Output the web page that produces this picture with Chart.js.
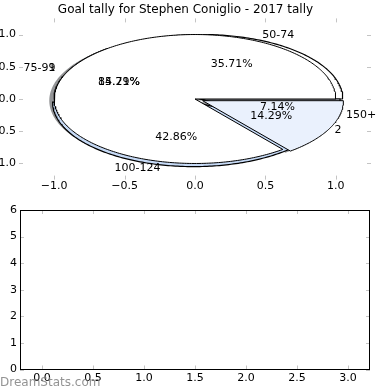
<!DOCTYPE html>
<html><head><meta charset="utf-8">
<script src="https://cdn.jsdelivr.net/npm/chart.js@4.4.0/dist/chart.umd.min.js"></script>
<style>
html,body{margin:0;padding:0;background:#fff;width:390px;height:390px;overflow:hidden}
canvas{position:absolute;left:0}
#top{top:0}
#bot{top:200px}
</style></head><body>
<canvas id="top" width="390" height="200"></canvas>
<canvas id="bot" width="390" height="190"></canvas>
<script>
// ---- data ----
const chartTitle = 'Goal tally for Stephen Coniglio - 2017 tally';
const pieALabels = ['50-74', '75-99', '100-124', '150+'];
const pieAValues = [5, 2, 6, 1];
const pieBLabels = ['1', '2'];
const pieBValues = [12, 2];
const topXTicks = [-1.0, -0.5, 0.0, 0.5, 1.0];
const topYTicks = [-1.0, -0.5, 0.0, 0.5, 1.0];
const botXTicks = [0.0, 0.5, 1.0, 1.5, 2.0, 2.5, 3.0];
const botYTicks = [0, 1, 2, 3, 4, 5, 6];
const watermark = 'DreamStats.com';

// ---- styles ----
const FONT = '"DejaVu Sans", "Liberation Sans", sans-serif';
const pieAStyle = { fill: ['#ffffff', '#ffffff', '#c6daf6', '#eaf1fd'], shiftX: [0.05, 0, 0, 0.03], explode: [0, 0, 0.05, 0] };
const pieBStyle = { fill: ['#ffffff', '#eaf1fd'], explode: [0, 0.06] };
const SHADOW = [-0.035, -0.025];

function wedge(t1, t2, r, cx, cy) {
  const pts = [{x: cx, y: cy}];
  const n = Math.max(2, Math.ceil(Math.abs(t2 - t1)));
  for (let i = 0; i <= n; i++) {
    const a = (t1 + (t2 - t1) * i / n) * Math.PI / 180;
    pts.push({x: cx + r * Math.cos(a), y: cy + r * Math.sin(a)});
  }
  pts.push({x: cx, y: cy});
  return pts;
}
function pieGeometry(values) {
  const sum = values.reduce((a, b) => a + b, 0);
  let acc = 0;
  return values.map(v => {
    const t1 = acc / sum * 360; acc += v; const t2 = acc / sum * 360;
    return {t1, t2, mid: (t1 + t2) / 2, pct: (v / sum * 100).toFixed(2) + '%'};
  });
}
const geoA = pieGeometry(pieAValues);
const geoB = pieGeometry(pieBValues);

// layers, bottom first
const layers = [];
geoB.forEach((g, i) => {
  const e = pieBStyle.explode[i], m = g.mid * Math.PI / 180;
  layers.push({pts: wedge(g.t1, g.t2, 1, e * Math.cos(m) + SHADOW[0], e * Math.sin(m) + SHADOW[1]),
    fill: 'rgba(60,62,66,0.55)', border: 'rgba(0,0,0,0)', bw: 0, label: 'shadow ' + pieBLabels[i]});
});
geoA.forEach((g, i) => {
  const e = pieAStyle.explode[i], m = g.mid * Math.PI / 180;
  layers.push({pts: wedge(g.t1, g.t2, 1, e * Math.cos(m) + pieAStyle.shiftX[i], e * Math.sin(m)),
    fill: pieAStyle.fill[i], border: '#000000', bw: 1.2, label: pieALabels[i]});
});
geoB.forEach((g, i) => {
  const e = pieBStyle.explode[i], m = g.mid * Math.PI / 180;
  layers.push({pts: wedge(g.t1, g.t2, 1, e * Math.cos(m), e * Math.sin(m)),
    fill: pieBStyle.fill[i], border: '#000000', bw: 1, label: pieBLabels[i]});
});
const datasets = layers.map((L, i) => ({
  label: L.label, data: L.pts, fill: false, showLine: true, tension: 0,
  pointRadius: 0, borderColor: L.border, borderWidth: L.bw, backgroundColor: L.fill,
  order: layers.length - i, _fillColor: L.fill
}));

const fmtSigned = v => (v < 0 ? '\u2212' : '') + Math.abs(v).toFixed(1);

const wedgeFill = {
  id: 'wedgeFill',
  beforeDatasetDraw(chart, args) {
    const meta = args.meta; const pts = meta.data; if (!pts.length) return;
    const ctx = chart.ctx;
    ctx.save();
    ctx.beginPath();
    pts.forEach((p, k) => k ? ctx.lineTo(p.x, p.y) : ctx.moveTo(p.x, p.y));
    ctx.closePath();
    ctx.fillStyle = chart.data.datasets[args.index]._fillColor;
    ctx.fill();
    ctx.restore();
  }
};

function tickMarks(color, len) {
  return {
    id: 'tickMarks',
    afterDraw(chart) {
      const ctx = chart.ctx, a = chart.chartArea, sx = chart.scales.x, sy = chart.scales.y;
      ctx.save(); ctx.strokeStyle = color; ctx.lineWidth = 1; ctx.beginPath();
      sx.ticks.forEach(t => {
        const x = Math.round(sx.getPixelForValue(t.value)) + 0.5;
        ctx.moveTo(x, a.top); ctx.lineTo(x, a.top + len);
        ctx.moveTo(x, a.bottom); ctx.lineTo(x, a.bottom - len);
      });
      sy.ticks.forEach(t => {
        const y = Math.round(sy.getPixelForValue(t.value)) + 0.5;
        ctx.moveTo(a.left, y); ctx.lineTo(a.left + len, y);
        ctx.moveTo(a.right, y); ctx.lineTo(a.right - len, y);
      });
      ctx.stroke(); ctx.restore();
    }
  };
}

const pieText = {
  id: 'pieText',
  afterDatasetsDraw(chart) {
    const ctx = chart.ctx, sx = chart.scales.x, sy = chart.scales.y;
    ctx.save();
    ctx.font = '11px ' + FONT; ctx.fillStyle = '#000'; ctx.textBaseline = 'middle';
    const put = (geo, labels) => geo.forEach((g, i) => {
      const m = g.mid * Math.PI / 180;
      const lx = 1.1 * Math.cos(m), ly = 1.1 * Math.sin(m);
      ctx.textAlign = lx > 0 ? 'left' : 'right';
      ctx.fillText(labels[i], sx.getPixelForValue(lx), sy.getPixelForValue(ly));
      ctx.textAlign = 'center';
      ctx.fillText(g.pct, sx.getPixelForValue(0.6 * Math.cos(m)), sy.getPixelForValue(0.6 * Math.sin(m)));
    });
    put(geoA, pieALabels);
    put(geoB, pieBLabels);
    ctx.restore();
  }
};

Chart.defaults.font.family = FONT;
Chart.defaults.font.size = 11;
Chart.defaults.color = '#000';

new Chart(document.getElementById('top'), {
  type: 'line',
  data: {datasets},
  options: {
    responsive: false, animation: false, devicePixelRatio: 1, events: [],
    layout: {padding: {left: 0, right: 19, top: 0, bottom: 0}},
    plugins: {
      legend: {display: false}, tooltip: {enabled: false},
      title: {display: true, text: chartTitle, color: '#000',
        font: {family: FONT, size: 12, weight: 'normal', lineHeight: 1.2}, padding: {top: 3, bottom: 1}}
    },
    scales: {
      x: {type: 'linear', min: -1.25, max: 1.25,
        afterBuildTicks: s => { s.ticks = topXTicks.map(v => ({value: v})); },
        afterFit: s => { s.height = 20.4; },
        grid: {display: false, drawTicks: false}, border: {display: false},
        ticks: {padding: 0, callback: v => fmtSigned(v), maxRotation: 0, autoSkip: false}},
      y: {type: 'linear', min: -1.25, max: 1.25,
        afterBuildTicks: s => { s.ticks = topYTicks.map(v => ({value: v})); },
        afterFit: s => { s.width = 19; },
        grid: {display: false, drawTicks: false}, border: {display: false},
        ticks: {padding: 3, callback: v => fmtSigned(v), autoSkip: false}}
    }
  },
  plugins: [wedgeFill, pieText, tickMarks('#c4c4c4', 4)]
});

const frame = {
  id: 'frame',
  afterDraw(chart) {
    const ctx = chart.ctx, a = chart.chartArea;
    ctx.save(); ctx.strokeStyle = '#000'; ctx.lineWidth = 1;
    ctx.strokeRect(Math.round(a.left) + 0.5, Math.round(a.top) + 0.5,
      Math.round(a.right) - Math.round(a.left) - 1, Math.round(a.bottom) - Math.round(a.top) - 1);
    ctx.font = '12px ' + FONT; ctx.fillStyle = 'rgba(120,120,120,0.8)';
    ctx.textAlign = 'left'; ctx.textBaseline = 'middle';
    ctx.fillText(watermark, 0, 183);
    ctx.restore();
  }
};

new Chart(document.getElementById('bot'), {
  type: 'line',
  data: {datasets: []},
  options: {
    responsive: false, animation: false, devicePixelRatio: 1, events: [],
    layout: {padding: {left: 0, right: 20, top: 10, bottom: 0}},
    plugins: {legend: {display: false}, tooltip: {enabled: false}, title: {display: false}},
    scales: {
      x: {type: 'linear', min: -0.215, max: 3.215,
        afterBuildTicks: s => { s.ticks = botXTicks.map(v => ({value: v})); },
        afterFit: s => { s.height = 20.5; },
        grid: {display: false, drawTicks: false}, border: {display: false},
        ticks: {padding: 2, callback: v => v.toFixed(1), maxRotation: 0, autoSkip: false}},
      y: {type: 'linear', min: 0, max: 6,
        afterBuildTicks: s => { s.ticks = botYTicks.map(v => ({value: v})); },
        afterFit: s => { s.width = 20; },
        grid: {display: false, drawTicks: false}, border: {display: false},
        ticks: {padding: 3, callback: v => String(v), autoSkip: false}}
    }
  },
  plugins: [tickMarks('#c4c4c4', 4), frame]
});
</script>
</body></html>
